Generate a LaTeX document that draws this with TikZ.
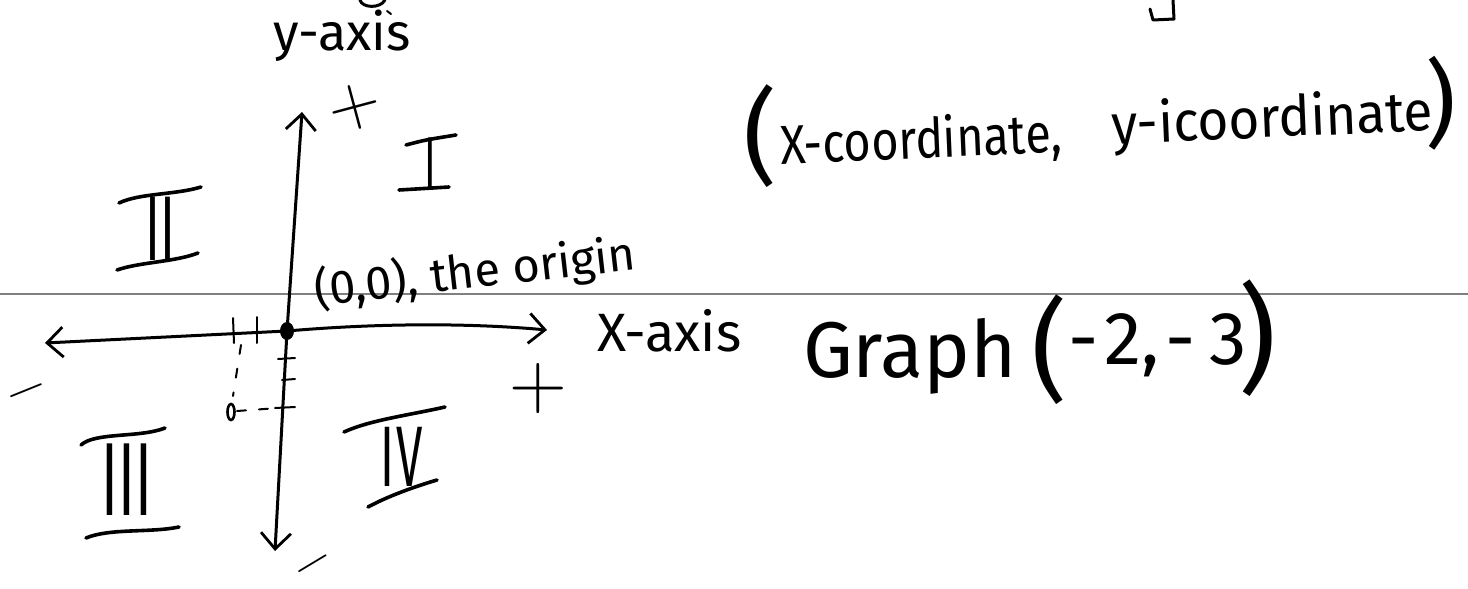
\documentclass[tikz,border=0pt]{standalone}
\usepackage{fontspec}
\newfontfamily\hand{Fira Sans}
\usetikzlibrary{arrows.meta}
\begin{document}
\begin{tikzpicture}[x=1pt,y=-1pt,
  pen/.style={line width=3pt,line cap=round,line join=round},
  barpen/.style={line width=3.6pt,line cap=round,line join=round},
  thinpen/.style={line width=2pt,line cap=round},
  hw/.style={inner sep=0pt,outer sep=0pt},
  numeral/.style={inner sep=0pt,outer sep=0pt,xscale=0.55},
  axisline/.style={pen,-{Straight Barb[length=16pt,width=30pt,line width=2.8pt]}},
  ]
\fill[white] (0,0) rectangle (1468,589);
\useasboundingbox (0,0) rectangle (1468,589);
% ruled line of the paper
\draw[gray,line width=1.5pt] (0,294) -- (1468,294);
% cut-off fragments at the top edge
\draw[pen] (360,0) .. controls (362,8) and (380,9) .. (385,0);
\draw[thinpen] (387,11) -- (391,14);
\draw[pen] (1173,0) -- (1174,19) -- (1153,20) -- (1150,9);

% axes
\coordinate (O) at (287,331);
\coordinate (xl) at (45,343);
\coordinate (xr) at (547,330);
\coordinate (yt) at (302,112);
\coordinate (yb) at (275,551);
\draw[axisline] (O) -- (xl);
\draw[axisline] (O) .. controls (380,323) and (470,323) .. (xr);
\draw[axisline] (O) -- (yt);
\draw[axisline] (O) -- (yb);
\fill (O) ellipse [x radius=7pt, y radius=9pt];

% ticks
\draw[thinpen] (233,318) -- (234,343);
\draw[thinpen] (257,317) -- (257,343);
\draw[thinpen] (278,359) -- (295,358);
\draw[thinpen] (282,380) -- (295,379);
\draw[thinpen] (275,408) -- (295,407);
% the point (-2,-3)
\coordinate (P) at (231,412);
\draw[line width=2.6pt] (P) ellipse [x radius=3.5pt, y radius=8pt];
\coordinate (tx) at (241,345);
\coordinate (ty) at (278,408);
\draw[thinpen,dash pattern=on 9pt off 15pt] (tx) -- (233,396);
\draw[thinpen,dash pattern=on 9pt off 13pt] (237,411) -- (ty);

% signs
\node[hw,rotate=15,font=\fontsize{72}{72}\selectfont] (py) at (355,107) {+};
\node[hw,font=\fontsize{80}{80}\selectfont] (px) at (538,389) {+};
\node[hw,rotate=22,font=\fontsize{54}{54}\selectfont] (mx) at (29,397) {−};
\node[hw,rotate=31,font=\fontsize{52}{52}\selectfont] (my) at (316,569) {−};

% quadrant numerals
\node[numeral,font=\hand\fontsize{72}{72}\selectfont] (q1) at (430,163) {I};
\draw[barpen] (406,145) .. controls (425,140) .. (456,135);
\draw[barpen] (399,190) -- (449,187);
\node[numeral,font=\hand\fontsize{92}{92}\selectfont] (q2) at (160,229) {II};
\draw[barpen] (119,203) .. controls (140,193) and (175,195) .. (201,187);
\draw[barpen] (117,270) .. controls (140,262) and (175,262) .. (198,253);
\node[numeral,font=\hand\fontsize{104}{104}\selectfont] (q3) at (127,480) {III};
\draw[barpen] (81,445) .. controls (95,432) and (140,438) .. (165,428);
\draw[barpen] (86,538) .. controls (110,528) and (150,533) .. (179,527);
\node[numeral,font=\hand\fontsize{86}{86}\selectfont] (q4) at (402,457) {I\kern4ptV};
\draw[barpen] (344,432) .. controls (370,420) and (410,415) .. (445,407);
\draw[barpen] (368,507) .. controls (390,495) and (420,485) .. (437,480);

% labels
\node[hw,anchor=base west,font=\hand\fontsize{52}{52}\selectfont] (ylab) at (273,50) {y-axis};
\node[hw,anchor=base west,rotate=6.5,font=\hand\fontsize{47}{47}\selectfont] (olab) at (316,306) {(0,0), the origin};
\node[hw,anchor=base west,font=\hand\fontsize{54}{54}\selectfont] (xlab) at (597,351) {X-axis};

\node[hw,font=\hand\fontsize{104}{104}\selectfont] (lp1) at (760,136) {(};
\node[hw,anchor=base west,rotate=2.4,xscale=0.85,font=\hand\fontsize{55}{55}\selectfont] (xc) at (781,164) {X-coordinate,};
\node[hw,anchor=base west,rotate=2.4,xscale=0.95,font=\hand\fontsize{56}{56}\selectfont] (yc) at (1112,144) {y-icoordinate};
\node[hw,font=\hand\fontsize{95}{95}\selectfont] (rp1) at (1441,103) {)};

\node[hw,anchor=base west,font=\hand\fontsize{79}{79}\selectfont] (gr) at (803,377) {Graph};
\node[hw,font=\hand\fontsize{111}{111}\selectfont] (lp2) at (1049,350) {(};
\node[hw,anchor=base west,font=\hand\fontsize{75}{75}\selectfont] (pt) at (1068,364) {-\kern6pt2,\kern6pt-\kern14pt3};
\node[hw,font=\hand\fontsize{118}{118}\selectfont] (rp2) at (1258,338) {)};
\end{tikzpicture}
\end{document}
